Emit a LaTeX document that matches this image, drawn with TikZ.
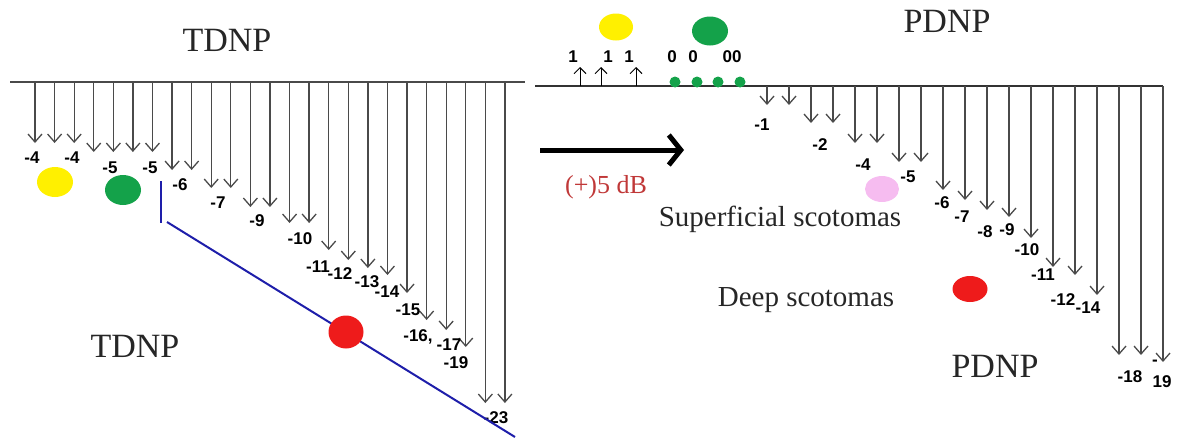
\documentclass[tikz,border=0pt]{standalone}
\usepackage{fontspec}
\setmainfont{Liberation Serif}
\setsansfont{Liberation Sans}
\usepackage{tikz}
\usetikzlibrary{positioning,arrows.meta,shapes.geometric}

\definecolor{spotyellow}{HTML}{FFF000}
\definecolor{spotgreen}{HTML}{14A24A}
\definecolor{spotred}{HTML}{EE1B1B}
\definecolor{spotpink}{HTML}{F6BCF0}
\definecolor{scotblue}{HTML}{1E1EAA}
\definecolor{arrgray}{HTML}{4A4A4A}
\definecolor{dbred}{HTML}{C03838}

\begin{document}
\begin{tikzpicture}[
  x=1pt, y=-1pt,
  base/.style={draw=arrgray, line width=1.3pt},
  dn/.style={draw=arrgray, line width=1.3pt, -{Straight Barb[length=8pt,width=14pt]}},
  upar/.style={draw=black, line width=1pt, -{Straight Barb[length=6pt,width=12pt]}},
  num/.style={font=\sffamily\bfseries\fontsize{17}{17}\selectfont, inner sep=0pt},
  ttl/.style={font=\fontsize{34}{34}\selectfont, text=black!85, inner sep=0pt},
  note/.style={font=\fontsize{29}{29}\selectfont, text=black!85, inner sep=0pt},
  spot/.style={ellipse, inner sep=0pt, minimum width=36pt, minimum height=30pt},
  dot/.style={circle, fill=spotgreen, inner sep=0pt, minimum size=11pt}
]
\useasboundingbox (0,0) rectangle (1177,442);

% left panel: TDNP
\coordinate (lA) at (10,82);
\coordinate (lB) at (525,82);
\draw[base] (lA) -- (lB);
\foreach \y [count=\i] in {143,143,143,152,152,152,152,170,170,188,188,207,207,
                           223,223,250,260,268,275,293,320,330,347,403,403} {
  \coordinate (ltop\i) at ({35+19.58*(\i-1)},82);
  \coordinate (ltip\i) at ({35+19.58*(\i-1)},\y);
  \draw[dn] (ltop\i) -- (ltip\i);
}
\foreach \x/\y/\t [count=\i] in {32/158/-4, 72/158/-4, 110/168/-5, 150/168/-5, 180/185/-6,
    218/203/-7, 257/221/-9, 300/239/-10, 318/267/-11, 340/274/-12, 367/282/-13,
    387/292/-14, 408/310/-15, 418/337/{-16,}, 449/345/-17, 456/363/-19, 496/418/-23} {
  \node[num] (lnum\i) at (\x,\y) {\t};
}
\node[ttl] (ttop) at (227,40) {TDNP};
\node[ttl] (tbot) at (135,346) {TDNP};
\node[spot, fill=spotyellow] (lyel) at (55,182) {};
\node[spot, fill=spotgreen] (lgrn) at (123,190) {};
\coordinate (bv1) at (161,181);
\coordinate (bv2) at (161,223);
\coordinate (bd1) at (167,222);
\coordinate (bd2) at (515,437);
\draw[scotblue, line width=2pt] (bv1) -- (bv2);
\draw[scotblue, line width=2pt] (bd1) -- (bd2);
\node[spot, fill=spotred, minimum width=35pt, minimum height=33pt] (lred) at (346,332) {};

% shift
\coordinate (mv1) at (540,150);
\coordinate (mv2) at (684,150);
\draw[line width=5pt, -{Straight Barb[length=12pt,width=30pt]}] (mv1) -- (mv2);
\node[font=\fontsize{26}{26}\selectfont, text=dbred, inner sep=0pt] (shift) at (606,187) {(+)5 dB};

% right panel: PDNP
\coordinate (rA) at (535,86);
\coordinate (rB) at (1163,86);
\draw[base, draw=black!80] (rA) -- (rB);
\foreach \x [count=\i] in {580,601,636} {
  \coordinate (ubot\i) at (\x,86);
  \coordinate (utop\i) at (\x,67);
  \draw[upar] (ubot\i) -- (utop\i);
}
\foreach \x/\t [count=\i] in {573/1, 608/1, 629/1, 672/0, 693/0, 732/00} {
  \node[num] (unum\i) at (\x,57) {\t};
}
\foreach \x [count=\i] in {675,697,718,740} {
  \node[dot] (gdot\i) at (\x,82) {};
}
\node[spot, fill=spotyellow, minimum width=34pt, minimum height=27pt] (ryel) at (616,27) {};
\node[spot, fill=spotgreen, minimum width=36pt, minimum height=29pt] (rgrn) at (710,31) {};
\foreach \y [count=\i] in {105,105,123,123,143,143,162,162,190,200,210,217,238,
                           267,275,295,355,355,362} {
  \coordinate (rtop\i) at ({767+22*(\i-1)},86);
  \coordinate (rtip\i) at ({767+22*(\i-1)},\y);
  \draw[dn] (rtop\i) -- (rtip\i);
}
\foreach \x/\y/\t [count=\i] in {762/125/-1, 820/145/-2, 863/165/-4, 908/177/-5, 942/203/-6,
    962/217/-7, 985/232/-8, 1007/230/-9, 1027/250/-10, 1043/275/-11, 1063/300/-12,
    1088/308/-14, 1130/377/-18, 1162/382/19, 1155/363/-} {
  \node[num] (rnum\i) at (\x,\y) {\t};
}
\node[ttl] (ptop) at (947,21) {PDNP};
\node[ttl] (pbot) at (995,366) {PDNP};
\node[spot, fill=spotpink, minimum width=34pt, minimum height=26pt] (rpnk) at (882,189) {};
\node[spot, fill=spotred, minimum width=35pt, minimum height=26pt] (rred) at (970,289) {};
\node[note] (sup) at (780,219) {Superficial scotomas};
\node[note] (deep) at (806,300) {Deep scotomas};
\end{tikzpicture}
\end{document}
